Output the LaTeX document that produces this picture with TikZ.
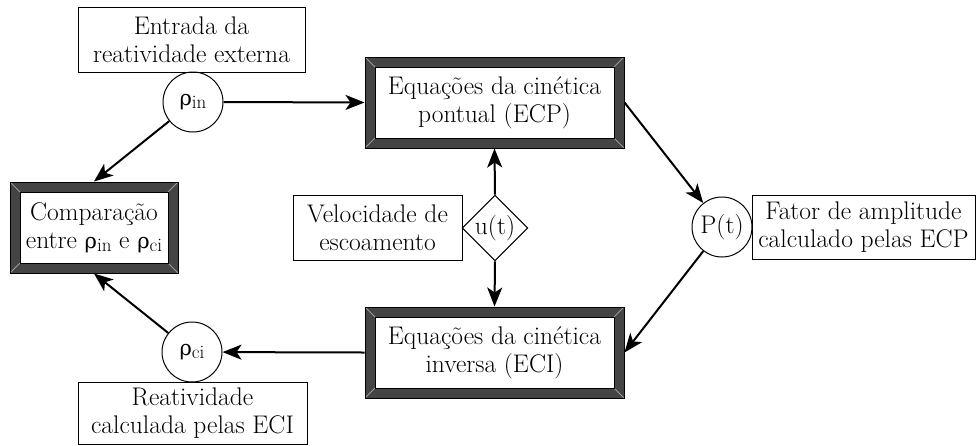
\documentclass[tikz,border=0pt]{standalone}
\usepackage{fontspec}
\newfontfamily\grk{DejaVu Serif}
\usetikzlibrary{shapes.geometric,arrows.meta,calc}
\definecolor{framegray}{HTML}{444444}
\definecolor{bevel}{HTML}{9A9A9A}
\newcommand\lowsub[1]{\raisebox{-0.32ex}{\fontsize{19}{19}\selectfont #1}}
\newcommand\rh{{\grk\fontsize{21}{21}\selectfont ρ}}
\tikzset{
  txt/.style={font=\rmfamily\fontsize{25.5}{28}\selectfont, align=center, inner sep=0pt},
  plainbox/.style={txt, draw=black, line width=1pt},
  framebox/.style={txt, draw=black, line width=1pt, fill=framegray,
    path picture={
      \coordinate (nw) at (path picture bounding box.north west);
      \coordinate (se) at (path picture bounding box.south east);
      \coordinate (ne) at (path picture bounding box.north east);
      \coordinate (sw) at (path picture bounding box.south west);
      \draw[bevel, line width=0.8pt] (nw) -- ++(10pt,-10pt) (ne) -- ++(-10pt,-10pt)
        (se) -- ++(-10pt,10pt) (sw) -- ++(10pt,10pt);
      \draw[black, fill=white, line width=1pt] ($(nw)+(10pt,-10pt)$) rectangle ($(se)+(-10pt,10pt)$);
    }},
  circ/.style={txt, circle, draw=black, line width=1pt, minimum size=60pt},
  arr/.style={line width=2pt, -{Stealth[length=19pt,width=15pt,inset=5pt]}}
}
\begin{document}
\begin{tikzpicture}[x=1pt,y=-1pt]
\useasboundingbox (0,0) rectangle (976,445);
% boxes
\node[plainbox, minimum width=227, minimum height=65] (ent) at (191.5,39.5) {Entrada da\\reatividade externa};
\node[circ] (rin) at (193,102) {\rh\lowsub{in}};
\node[framebox, minimum width=259, minimum height=91] (ecp) at (494.5,102.5) {Equações da cinética\\pontual (ECP)};
\node[framebox, minimum width=259, minimum height=91] (eci) at (494.5,352.5) {Equações da cinética\\inversa (ECI)};
\node[framebox, minimum width=168, minimum height=91] (cmp) at (94,227.5) {Comparação\\entre \rh\lowsub{in} e \rh\lowsub{ci}};
\node[circ] (rci) at (192,352) {\rh\lowsub{ci}};
\node[plainbox, minimum width=229, minimum height=62] (rcb) at (192.5,413) {Reatividade\\calculada pelas ECI};
\node[txt, diamond, draw=black, line width=1pt, minimum width=64, minimum height=64] (u) at (495,228) {u(t)};
\node[plainbox, minimum width=169, minimum height=65] (vel) at (377.5,227.5) {Velocidade de\\escoamento};
\node[circ] (pt) at (722,227) {P(t)};
\node[plainbox, minimum width=223, minimum height=64] (fat) at (863.5,227) {Fator de amplitude\\calculado pelas ECP};
% connectors
\draw[arr] (rin.east) -- (ecp.west);
\draw[arr] (rin) -- (cmp.north);
\draw[arr] (u.north) -- (ecp.south);
\draw[arr] (u.south) -- (eci.north);
\draw[arr] (ecp.east) -- (pt);
\draw[arr] (pt) -- (eci.east);
\draw[arr] (eci.west) -- (rci);
\draw[arr] (rci) -- (cmp.south);
\end{tikzpicture}
\end{document}
